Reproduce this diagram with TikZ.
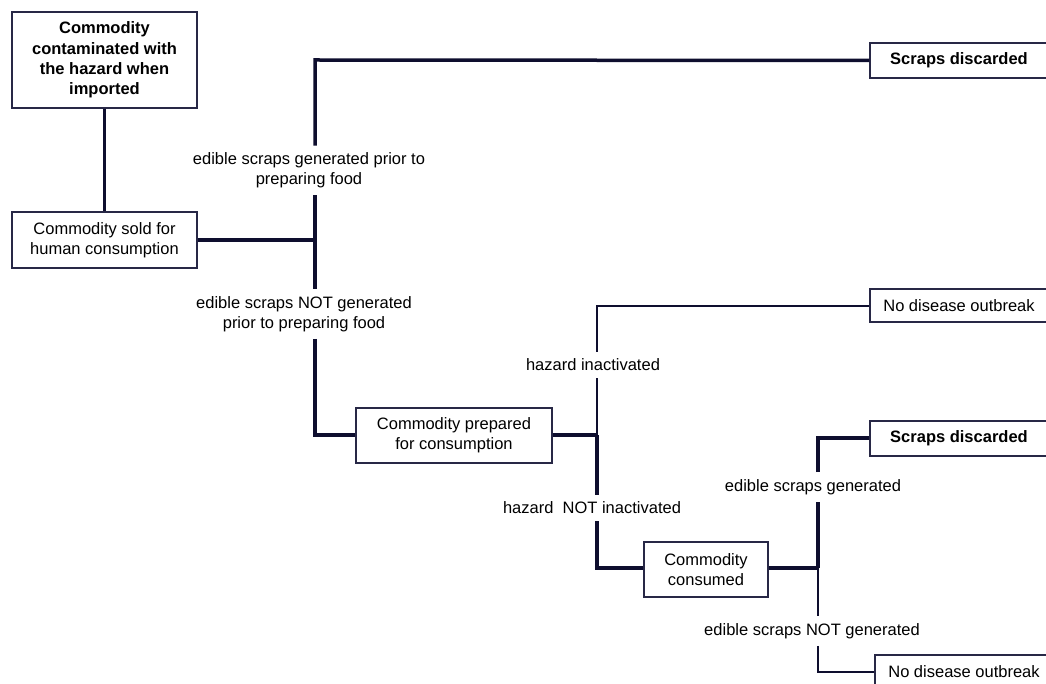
\documentclass[tikz,border=0pt]{standalone}
\usepackage{fontspec}
\setmainfont{Liberation Sans}
\definecolor{linecol}{RGB}{14,14,46}
\definecolor{boxcol}{RGB}{40,40,70}
\begin{document}
\begin{tikzpicture}[x=1pt,y=-1pt,
  box/.style={draw=boxcol, line width=1.2pt, fill=white, align=center, inner sep=0pt,
    font=\fontsize{16.5}{20.3}\selectfont},
  bbox/.style={box, font=\fontsize{16.5}{20.3}\selectfont\bfseries},
  lbl/.style={align=center, inner xsep=1pt, inner ysep=7pt, font=\fontsize{16.5}{20}\selectfont},
  heavy/.style={draw=linecol, line width=3.5pt},
  light/.style={draw=linecol, line width=1.3pt}]
\useasboundingbox (0,0) rectangle (1046,684);
\clip (0,0) rectangle (1046,684);
% boxes
\node[bbox, minimum width=185, minimum height=96] (b1) at (104.5,60) {Commodity\\contaminated with\\the hazard when\\imported};
\node[box, minimum width=185, minimum height=56] (b2) at (104.5,240) {Commodity sold for\\human consumption};
\node[bbox, minimum width=178, minimum height=35] (s1) at (959,60.5) {Scraps discarded};
\node[box, minimum width=196, minimum height=55] (b3) at (454,435.5) {Commodity prepared\\for consumption};
\node[box, minimum width=178, minimum height=33] (n1) at (959,305.5) {No disease outbreak};
\node[box, minimum width=124, minimum height=55] (b4) at (706,569.5) {Commodity\\consumed};
\node[bbox, minimum width=178, minimum height=35] (s2) at (959,438.5) {Scraps discarded};
\node[box, minimum width=178, minimum height=34] (n2) at (964,672) {No disease outbreak};
% junctions and corners
\coordinate (j1) at (315,240);
\coordinate (t1) at (315,60);
\coordinate (c1) at (315,435);
\coordinate (j2) at (597,435);
\coordinate (t2) at (597,306);
\coordinate (c2) at (597,568);
\coordinate (j3) at (818,568);
\coordinate (t3) at (818,438);
\coordinate (c3) at (818,672);
% labels
\node[lbl] (l1) at (309,170.5) {edible scraps generated prior to\\preparing food};
\node[lbl] (l2) at (304,314) {edible scraps NOT generated\\prior to preparing food};
\node[lbl] (l3) at (593,365) {hazard inactivated};
\node[lbl] (l4) at (592,508) {hazard\ \ NOT inactivated};
\node[lbl] (l5) at (813,487) {edible scraps generated};
\node[lbl] (l6) at (812,631) {edible scraps NOT generated};
% connectors
\draw[heavy] (b1) -- (b2);
\draw[heavy] (b2.east) -- (j1);
\draw[heavy] (j1) -- (j1 |- l1.south);
\draw[heavy] (j1 |- l1.north) -- (t1) -- (s1.west);
\draw[heavy] (j1) -- (j1 |- l2.north);
\draw[heavy] (j1 |- l2.south) -- (c1) -- (b3.west |- c1);
\draw[heavy] (b3.east |- j2) -- (j2);
\draw[light] (j2) -- (j2 |- l3.south);
\draw[light] (j2 |- l3.north) -- (t2) -- (n1.west |- t2);
\draw[heavy] (j2) -- (j2 |- l4.north);
\draw[heavy] (j2 |- l4.south) -- (c2) -- (b4.west |- c2);
\draw[heavy] (b4.east |- j3) -- (j3);
\draw[heavy] (j3) -- (j3 |- l5.south);
\draw[heavy] (j3 |- l5.north) -- (t3) -- (s2.west |- t3);
\draw[light] (j3) -- (j3 |- l6.north);
\draw[light] (j3 |- l6.south) -- (c3) -- (n2.west |- c3);
\end{tikzpicture}
\end{document}
